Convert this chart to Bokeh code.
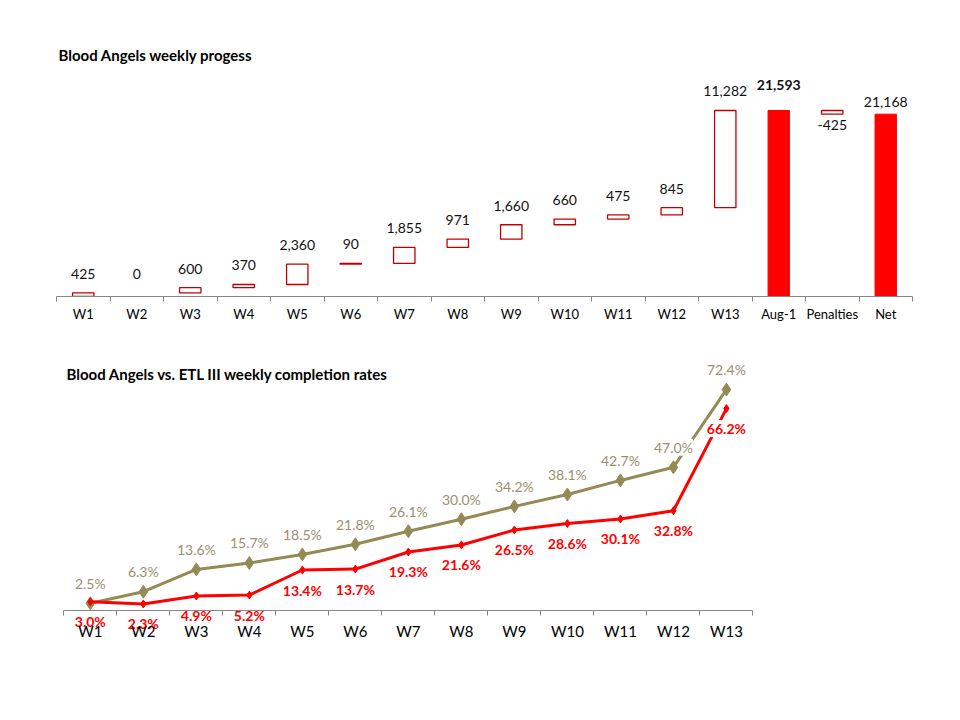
from bokeh.plotting import figure
from bokeh.layouts import column
from bokeh.models import ColumnDataSource, LabelSet, Label, Range1d, FixedTicker
from bokeh.core.properties import value
from bokeh.embed import file_html
from bokeh.resources import INLINE
import numpy as np

# weekly points (waterfall)
weeks = ["W1", "W2", "W3", "W4", "W5", "W6", "W7", "W8", "W9", "W10", "W11", "W12", "W13"]
weekly_points = [425, 0, 600, 370, 2360, 90, 1855, 971, 1660, 660, 475, 845, 11282]
penalty = -425
extra_cats = ["Aug-1", "Penalties", "Net"]

# completion rates (%)
ba_rates = [3.0, 2.3, 4.9, 5.2, 13.4, 13.7, 19.3, 21.6, 26.5, 28.6, 30.1, 32.8, 66.2]
etl_rates = [2.5, 6.3, 13.6, 15.7, 18.5, 21.8, 26.1, 30.0, 34.2, 38.1, 42.7, 47.0, 72.4]

FONT = "Lato"
BOX_RED = "#C00000"
RED = "#FF0000"
TAN = "#948A54"
TAN_TEXT = "#9A9070"


def style_xaxis(p, cats, centers, size, standoff):
    ax = p.xaxis[0]
    ax.ticker = FixedTicker(ticks=list(centers), minor_ticks=list(range(len(cats) + 1)))
    ax.major_label_overrides = {float(c): t for c, t in zip(centers, cats)}
    ax.bounds = (0, len(cats))
    ax.major_tick_line_color = None
    ax.major_tick_out = 0
    ax.major_tick_in = 0
    ax.minor_tick_line_color = "#868686"
    ax.minor_tick_out = 5
    ax.minor_tick_in = 0
    ax.axis_line_color = "#868686"
    ax.major_label_text_font = FONT
    ax.major_label_text_font_size = size
    ax.major_label_text_color = "#000000"
    ax.major_label_standoff = standoff


def style_title(p, text, offset, standoff):
    p.title.text = text
    p.title.align = "left"
    p.title.offset = offset
    p.title.text_font = FONT
    p.title.text_font_style = "bold"
    p.title.text_font_size = "15px"
    p.title.text_color = "#000000"
    p.title.standoff = standoff


def labels(p, src, dy, color, size="14px", bold=False, bg=None):
    p.add_layout(LabelSet(x="x", y="y", text="t", source=src, y_offset=dy, text_align="center",
                          text_baseline="middle", text_font=value(FONT), text_font_size=value(size),
                          text_font_style=value("bold" if bold else "normal"), text_color=color,
                          background_fill_color=bg))


# ---------- top: waterfall ----------
cats1 = weeks + extra_cats
x1 = np.arange(len(cats1)) + 0.5
ends = np.cumsum(weekly_points)
starts = ends - np.array(weekly_points)
aug_total = int(ends[-1])
net_total = aug_total + penalty

p1 = figure(width=944, height=347, x_range=Range1d(0, len(cats1)), y_range=Range1d(0, 26817),
            output_backend="svg", toolbar_location=None, y_axis_location=None,
            min_border_left=56, min_border_right=32, min_border_top=65, min_border_bottom=51)
style_title(p1, "Blood Angels weekly progess", 2, 3)
p1.outline_line_color = None
p1.grid.visible = False
style_xaxis(p1, cats1, x1, "13px", 4)

nz = [i for i, v in enumerate(weekly_points) if v != 0]
box_src = ColumnDataSource(dict(
    x=[x1[i] for i in nz] + [x1[len(weeks) + 1]],
    bottom=[starts[i] for i in nz] + [net_total],
    top=[ends[i] for i in nz] + [aug_total],
))
p1.vbar(x="x", bottom="bottom", top="top", width=0.4, source=box_src,
        fill_color="white", line_color=BOX_RED, line_width=1.3)

tot_src = ColumnDataSource(dict(x=[x1[len(weeks)], x1[len(weeks) + 2]], top=[aug_total, net_total]))
p1.vbar(x="x", top="top", bottom=0, width=0.4, source=tot_src, fill_color=RED, line_color=RED)

labels(p1, ColumnDataSource(dict(x=x1[:len(weeks)], y=ends, t=[f"{v:,}" for v in weekly_points])),
       19, "#111111")
labels(p1, ColumnDataSource(dict(x=[x1[len(weeks)]], y=[aug_total], t=[f"{aug_total:,}"])),
       25, "#111111", bold=True)
labels(p1, ColumnDataSource(dict(x=[x1[len(weeks) + 1]], y=[net_total], t=[f"{penalty:,}"])),
       -11, "#111111")
labels(p1, ColumnDataSource(dict(x=[x1[len(weeks) + 2]], y=[net_total], t=[f"{net_total:,}"])),
       12, "#111111")

# ---------- bottom: completion rates ----------
# frame covers the whole panel so that labels around the axis are not clipped;
# the axis itself sits at y = 0
x2 = np.arange(len(weeks)) + 0.5
p2 = figure(width=944, height=364, x_range=Range1d(-0.138, 16.01), y_range=Range1d(-28.3, 82.25),
            output_backend="svg", toolbar_location=None, y_axis_location=None,
            min_border_left=56, min_border_right=32, min_border_top=12, min_border_bottom=14)
p2.title.text = ""
p2.outline_line_color = None
p2.grid.visible = False
style_xaxis(p2, weeks, x2, "15px", 6)
p2.xaxis[0].fixed_location = 0
p2.xaxis[0].level = "overlay"

p2.add_layout(Label(x=10, y=324, x_units="screen", y_units="screen",
                    text="Blood Angels vs. ETL III weekly completion rates", text_baseline="middle",
                    text_font=FONT, text_font_style="bold", text_font_size="15px", text_color="#000000"))

p2.line(x2, etl_rates, line_color=TAN, line_width=3)
p2.scatter(x2, etl_rates, marker="diamond", size=13, fill_color=TAN, line_color=TAN)
p2.line(x2, ba_rates, line_color=RED, line_width=3)
p2.scatter(x2, ba_rates, marker="diamond", size=8, fill_color=RED, line_color=RED)

labels(p2, ColumnDataSource(dict(x=x2, y=etl_rates, t=[f"{v:.1f}%" for v in etl_rates])),
       20, TAN_TEXT, size="14px", bg="white")
labels(p2, ColumnDataSource(dict(x=x2, y=ba_rates, t=[f"{v:.1f}%" for v in ba_rates])),
       -20, RED, size="14px", bold=True, bg="white")

layout = column(p1, p2, spacing=0)
open("out.html", "w").write(file_html(layout, INLINE))
